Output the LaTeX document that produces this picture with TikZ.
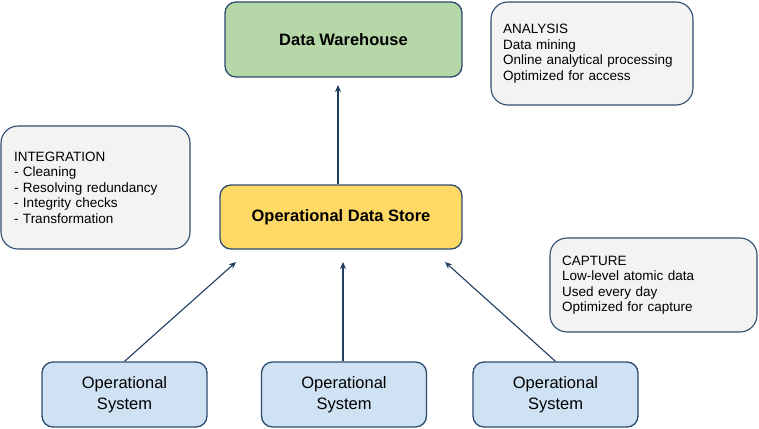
\documentclass[tikz,border=0pt]{standalone}
\usepackage{fontspec}
\setmainfont{Liberation Sans}
\usepackage{xcolor}
\usepackage{tikz}
\usetikzlibrary{arrows.meta}
\usetikzlibrary{calc, positioning}
\definecolor{edgeblue}{HTML}{2D4C6E}
\definecolor{arrowblue}{HTML}{1F3D5C}
\definecolor{dwgreen}{HTML}{B6D7A8}
\definecolor{odsyellow}{HTML}{FFD966}
\definecolor{osblue}{HTML}{CFE2F3}
\definecolor{notegray}{HTML}{F3F3F3}
\tikzstyle{mainbox}=[rectangle, rounded corners=11pt, draw=edgeblue, line width=1.3pt, inner sep=0pt, align=center]
\tikzstyle{sysbox}=[mainbox, fill=osblue, minimum width=165pt, minimum height=65pt, font=\fontsize{16.5pt}{21pt}\selectfont]
\tikzstyle{note}=[rectangle, rounded corners=17pt, draw=edgeblue, line width=1.1pt, fill=notegray, inner ysep=0pt, inner xsep=12pt, align=left, font=\fontsize{13.5pt}{15.5pt}\selectfont]

\begin{document}
\begin{tikzpicture}[x=1pt, y=-1pt]
\tikzset{>={Stealth[length=7pt, width=6pt]}}

\tikzset{every path/.style={line width=1.1pt}}

\useasboundingbox (0,0) rectangle (759,428);

% Warehouse and store
\node[mainbox, fill=dwgreen, minimum width=237pt, minimum height=75pt, font=\bfseries\fontsize{16.5pt}{20pt}\selectfont] (dw) at (343.5,39.5) {Data Warehouse};
\node[mainbox, fill=odsyellow, minimum width=242pt, minimum height=64pt, font=\bfseries\fontsize{16.5pt}{20pt}\selectfont] (ods) at (341,217) {Operational Data Store};

% Operational systems
\node[sysbox] (os1) at (124.5,394.5) {Operational\\System};
\node[sysbox] (os2) at (344,394.5) {Operational\\System};
\node[sysbox] (os3) at (555.5,394.5) {Operational\\System};

% Notes
\node[note, text width=178pt, minimum height=103pt] (analysis) at (592,53.5) {ANALYSIS\\Data mining\\Online analytical processing\\Optimized for access};
\node[note, text width=163pt, inner xsep=13pt, minimum height=123pt] (integration) at (95.5,187.5) {INTEGRATION\\- Cleaning\\- Resolving redundancy\\- Integrity checks\\- Transformation};
\node[note, text width=183pt, minimum height=94pt] (capture) at (653.5,285) {CAPTURE\\Low-level atomic data\\Used every day\\Optimized for capture};

% arrow ends below the store
\coordinate (in1) at (236,262);
\coordinate (in2) at (343,262);
\coordinate (in3) at (445,262);
\coordinate (up) at (338,85);

\draw[->, arrowblue] (ods.north -| up) to (up);
\draw[->, arrowblue] (os1.north) to (in1);
\draw[->, arrowblue] (os2.north -| in2) to (in2);
\draw[->, arrowblue] (os3.north) to (in3);

\end{tikzpicture}
\end{document}
